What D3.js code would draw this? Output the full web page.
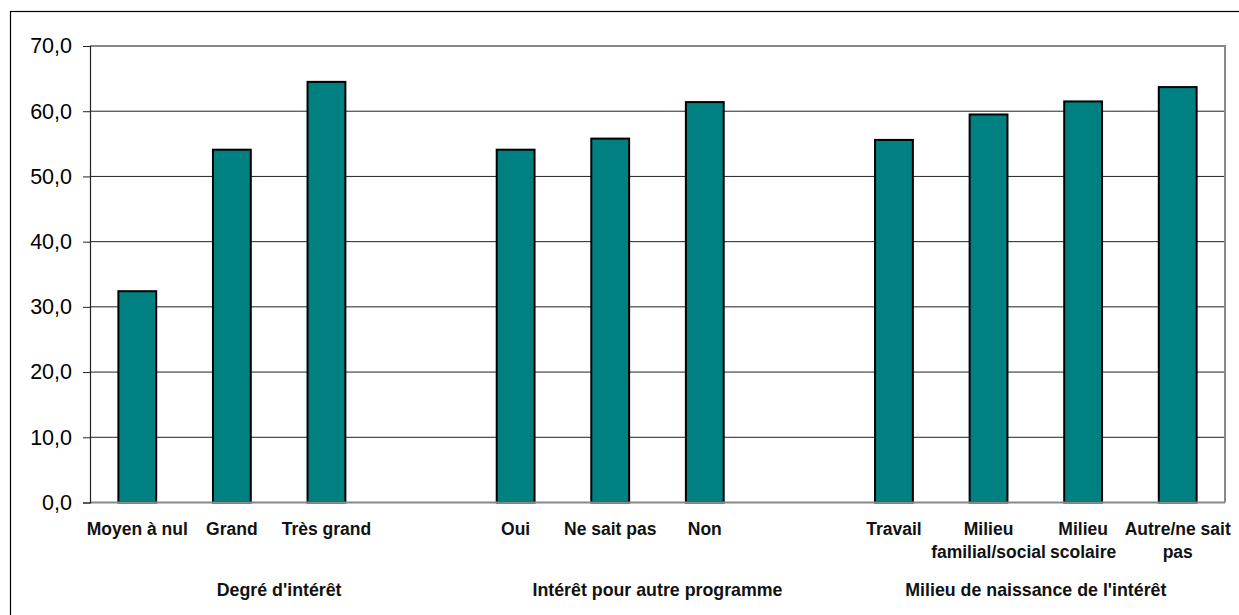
<!DOCTYPE html>
<html>
<head>
<meta charset="utf-8">
<script src="https://cdn.jsdelivr.net/npm/d3@7"></script>
<style>
  body { margin: 0; background: #fff; }
  svg { display: block; font-family: "Liberation Sans", Arial, sans-serif; }
</style>
</head>
<body>
<svg id="chart" width="1239" height="615"></svg>
<script>
// groups of the x axis, each one takes 4 slots
const groups = ["Degré d'intérêt", "Intérêt pour autre programme", "Milieu de naissance de l'intérêt"];
const categories = [
  ["Moyen à nul", "Grand", "Très grand"],
  ["Oui", "Ne sait pas", "Non"],
  ["Travail", "Milieu\nfamilial/social", "Milieu\nscolaire", "Autre/ne sait\npas"]
];
const values = [
  [32.4, 54.1, 64.5],
  [54.1, 55.8, 61.4],
  [55.6, 59.5, 61.5, 63.7]
];
const yTicks = [0, 10, 20, 30, 40, 50, 60, 70];
const slotsPerGroup = 4;

const rows = [];
groups.forEach((g, gi) => {
  categories[gi].forEach((c, ci) => {
    rows.push({ slot: gi * slotsPerGroup + ci, label: c, value: values[gi][ci] });
  });
});

const svg = d3.select('#chart');
const margin = { left: 90, right: 1225, top: 46, bottom: 502.5 };

// outer frame (runs off the right and bottom edges)
svg.append('rect')
  .attr('x', 10.5).attr('y', 11.5)
  .attr('width', 1260).attr('height', 640)
  .attr('fill', 'none').attr('stroke', '#000').attr('stroke-width', 1.2);

const x = d3.scaleBand()
  .domain(d3.range(groups.length * slotsPerGroup))
  .range([margin.left, margin.right])
  .paddingInner(0.6)
  .paddingOuter(0.3);

const y = d3.scaleLinear()
  .domain([0, 70])
  .range([margin.bottom, margin.top]);

// gridlines
svg.append('g')
  .selectAll('line')
  .data(yTicks.filter(d => d > 0 && d < 70))
  .enter().append('line')
    .attr('x1', margin.left).attr('x2', margin.right)
    .attr('y1', d => y(d)).attr('y2', d => y(d))
    .attr('stroke', '#222').attr('stroke-width', 1);

// plot frame top and right (grey)
svg.append('path')
  .attr('d', `M${margin.left},${y(70)}H${margin.right}V${y(0)}`)
  .attr('fill', 'none').attr('stroke', '#888').attr('stroke-width', 2);

// bars
svg.append('g')
  .selectAll('rect')
  .data(rows)
  .enter().append('rect')
    .attr('x', d => x(d.slot))
    .attr('y', d => y(d.value))
    .attr('width', x.bandwidth())
    .attr('height', d => y(0) - y(d.value))
    .attr('fill', '#008080')
    .attr('stroke', '#000')
    .attr('stroke-width', 2);

// zero line
svg.append('line')
  .attr('x1', margin.left).attr('x2', margin.right)
  .attr('y1', y(0)).attr('y2', y(0))
  .attr('stroke', '#888').attr('stroke-width', 2);

// y axis
const yAxis = d3.axisLeft(y)
  .tickValues(yTicks)
  .tickSize(7)
  .tickPadding(11)
  .tickFormat(d => d.toFixed(1).replace('.', ','));

svg.append('g')
  .attr('transform', `translate(${margin.left},0)`)
  .call(yAxis)
  .call(g => g.select('.domain').attr('stroke', '#222').attr('stroke-width', 1.2))
  .call(g => g.selectAll('.tick line').attr('stroke', '#222'))
  .call(g => g.selectAll('.tick text')
    .attr('fill', '#000')
    .style('font-size', '21.5px')
    .style('font-family', '"Liberation Sans", Arial, sans-serif'));

// category labels
const catLabels = svg.append('g')
  .selectAll('text')
  .data(rows)
  .enter().append('text')
    .attr('x', d => x(d.slot) + x.bandwidth() / 2)
    .attr('y', 535)
    .attr('text-anchor', 'middle')
    .style('font-size', '17.5px')
    .style('font-weight', 'bold')
    .attr('fill', '#111');

catLabels.selectAll('tspan')
  .data(d => d.label.split('\n').map(t => ({ t, cx: x(d.slot) + x.bandwidth() / 2 })))
  .enter().append('tspan')
    .attr('x', d => d.cx)
    .attr('dy', (d, i) => i === 0 ? 0 : 23)
    .text(d => d.t);

// group labels
svg.append('g')
  .selectAll('text')
  .data(groups)
  .enter().append('text')
    .attr('x', (d, i) => {
      const first = x(i * slotsPerGroup) - x.step() * x.paddingInner() / 2;
      return first + x.step() * slotsPerGroup / 2;
    })
    .attr('y', 596)
    .attr('text-anchor', 'middle')
    .style('font-size', '17.8px')
    .style('font-weight', 'bold')
    .attr('fill', '#111')
    .text(d => d);
</script>
</body>
</html>
